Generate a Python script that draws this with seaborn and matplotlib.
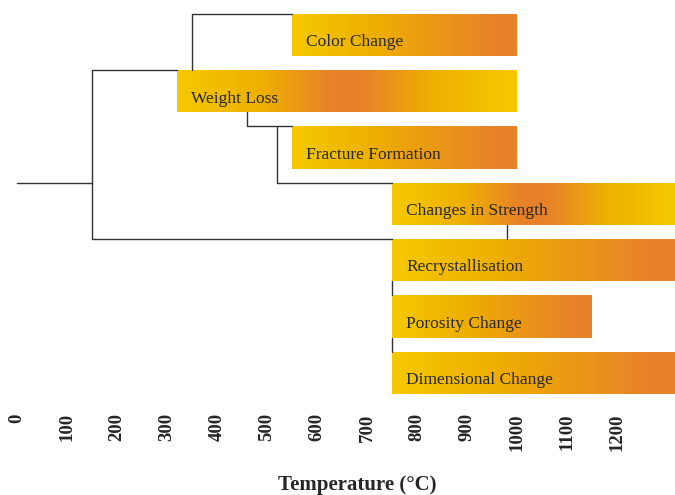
import numpy as np
import pandas as pd
import matplotlib
matplotlib.use("Agg")
import matplotlib.pyplot as plt
from matplotlib.colors import LinearSegmentedColormap
import seaborn as sns

# processes and their temperature ranges (degC)
processes = ["Color Change", "Weight Loss", "Fracture Formation",
             "Changes in Strength", "Recrystallisation", "Porosity Change",
             "Dimensional Change"]
start_temp = [550, 320, 550, 750, 750, 750, 750]
end_temp = [1000, 1000, 1000, 1320, 1320, 1150, 1320]
# gradient shape: ramp = yellow->orange, peak = orange in the middle
shade = ["ramp", "peak", "ramp", "peak", "ramp", "ramp", "ramp"]

# tree connectors: (temperature, row edge) points per segment
tree_seg = [0, 0, 1, 1, 1, 1, 2, 2, 2, 3, 3, 3, 4, 4, 4, 5, 5, 6, 6, 7, 7]
tree_x = [0, 150, 320, 150, 150, 750, 350, 350, 550, 460, 460, 550,
          520, 520, 750, 980, 980, 750, 750, 750, 750]
tree_y = [2.625, 2.625, 0.625, 0.625, 3.625, 3.625, 0.625, -0.375, -0.375,
          1.375, 1.625, 1.625, 1.625, 2.625, 2.625, 3.375, 3.625,
          4.375, 4.625, 5.375, 5.625]

ticks = list(range(0, 1300, 100))

sns.set_theme(style="white")
plt.rcParams["font.family"] = ["Liberation Serif", "DejaVu Serif"]

fig = plt.figure(figsize=(6.75, 4.95), dpi=100)
ax = fig.add_axes([0, 90 / 495, 1, 405 / 495])

yellow, mid, orange = "#F5C900", "#EEB000", "#E8822A"
cmaps = {
    "ramp": LinearSegmentedColormap.from_list(
        "ramp", [(0, yellow), (0.35, mid), (0.9, orange), (1, orange)]),
    "peak": LinearSegmentedColormap.from_list(
        "peak", [(0, yellow), (0.25, mid), (0.45, orange), (0.55, orange),
                 (0.75, mid), (1, yellow)]),
}

rows = np.arange(len(processes))
widths = np.array(end_temp) - np.array(start_temp)
bars = ax.barh(rows, widths, left=start_temp, height=0.75,
               color="none", edgecolor="none")
grad = np.linspace(0, 1, 256).reshape(1, -1)
for bar, s, e, r, kind in zip(bars, start_temp, end_temp, rows, shade):
    im = ax.imshow(grad, cmap=cmaps[kind], aspect="auto",
                   extent=(s, e, r + 0.375, r - 0.375), zorder=1)
    im.set_clip_path(bar)

for name, s, r in zip(processes, start_temp, rows):
    ax.text(s + 28, r + 0.2, name, fontsize=12.5, color="#262626",
            va="baseline", ha="left", zorder=3)

tree = pd.DataFrame({"seg": tree_seg, "x": tree_x, "y": tree_y})
sns.lineplot(data=tree, x="x", y="y", units="seg", estimator=None,
             sort=False, color="#333333", linewidth=1.0, ax=ax, zorder=2)

ax.set_xlim(-34, 1316)
ax.set_ylim(6.572, -0.6217)
ax.set_yticks([])
ax.set_xticks(ticks)
ax.set_xticklabels([str(t) for t in ticks], rotation=90, fontsize=13.5,
                   fontweight="bold", va="top")
ax.tick_params(axis="x", length=0, pad=6)
ax.set_ylabel("")
ax.set_xlabel("Temperature (\u00b0C)", fontsize=15, fontweight="bold",
              va="top")
ax.xaxis.set_label_coords(357 / 675, -70 / 405)
for sp in ax.spines.values():
    sp.set_visible(False)

fig.savefig("out.png", dpi=100)
